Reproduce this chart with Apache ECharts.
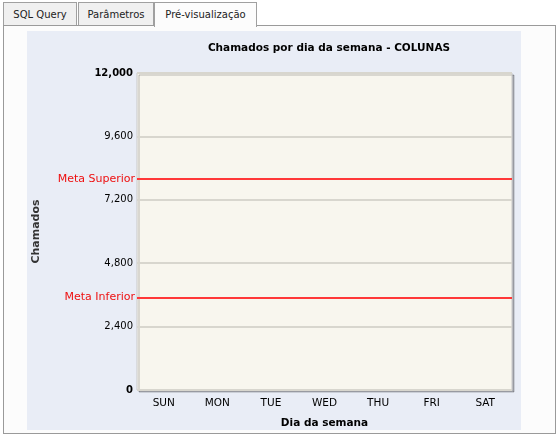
<!DOCTYPE html>
<html>
<head>
<meta charset="utf-8">
<script src="https://cdn.jsdelivr.net/npm/echarts@6/dist/echarts.min.js"></script>
<style>
  html,body{margin:0;padding:0;background:#ffffff;width:558px;height:437px;overflow:hidden;font-family:"DejaVu Sans",Verdana,sans-serif;}
  .tab{position:absolute;top:2px;height:23px;border:1px solid #a0a0a0;border-bottom:none;background:#f0f0f0;font-size:10px;color:#222;line-height:23px;text-align:center;box-sizing:border-box;}
  .tab.active{background:#fcfcfc;height:25px;z-index:2;}
  #panel{position:absolute;left:3px;top:25px;width:553px;height:409px;border:1px solid #9a9a9a;box-sizing:border-box;background:#fcfcfc;}
  #chart{position:absolute;left:27px;top:31px;width:494px;height:399px;}
</style>
</head>
<body>
<div class="tab" style="left:3px;width:74px;">SQL Query</div>
<div class="tab" style="left:78px;width:76px;">Parâmetros</div>
<div class="tab active" style="left:154px;width:103px;">Pré-visualização</div>
<div id="panel"></div>
<div id="chart"></div>
<script>
const titleText = 'Chamados por dia da semana - COLUNAS';
const categories = ['SUN','MON','TUE','WED','THU','FRI','SAT'];
const chamados = [0,0,0,0,0,0,0];
const yMin = 0, yMax = 12000, yInterval = 2400;
const metaSuperior = 8000;
const metaInferior = 3500;
const metaNames = ['Meta Superior','Meta Inferior'];
const xAxisName = 'Dia da semana';
const yAxisName = 'Chamados';

const chart = echarts.init(document.getElementById('chart'), null, {renderer:'canvas'});
const fmt = v => v.toLocaleString('en-US');
chart.setOption({
  animation:false,
  backgroundColor:'#e9edf6',
  title:{text:titleText,left:297,top:7,textAlign:'center',
    textStyle:{fontFamily:'DejaVu Sans',fontSize:10.5,fontWeight:'bold',color:'#000'}},
  grid:{left:110,right:9,top:42,height:317,outerBoundsMode:'none',containLabel:false,show:true,backgroundColor:'#f8f6ee',
    borderColor:'#c8c8c8',borderWidth:1,shadowColor:'rgba(0,0,0,0.25)',shadowOffsetX:2,shadowOffsetY:2,shadowBlur:0},
  xAxis:{type:'category',data:categories,name:xAxisName,nameLocation:'middle',nameGap:28,
    nameTextStyle:{fontFamily:'DejaVu Sans',fontSize:10.5,fontWeight:'bold',color:'#000'},
    axisLine:{show:false},axisTick:{show:false},
    axisLabel:{fontFamily:'DejaVu Sans',fontSize:10.5,color:'#000',margin:8}},
  yAxis:{type:'value',min:yMin,max:yMax,interval:yInterval,name:yAxisName,nameLocation:'middle',nameGap:95,
    nameTextStyle:{fontFamily:'DejaVu Sans',fontSize:11,fontWeight:'bold',color:'#333'},
    axisLine:{show:false},axisTick:{show:false},
    splitLine:{lineStyle:{color:'#d8d6ce',width:2}},
    axisLabel:{margin:4,color:'#000',fontFamily:'DejaVu Sans',fontSize:10,
      formatter:v=> (v===yMin||v===yMax) ? '{b|'+fmt(v)+'}' : fmt(v),
      rich:{b:{fontWeight:'bold',fontFamily:'DejaVu Sans',fontSize:10,color:'#000'}}}},
  series:[{type:'bar',data:chamados,itemStyle:{color:'#5b7fbf'},
    markLine:{symbol:'none',silent:true,
      lineStyle:{color:'#ff3838',width:2,type:'solid'},
      label:{position:'start',formatter:'{b}',color:'#ee1010',distance:2,
        fontFamily:'DejaVu Sans',fontSize:11},
      data:[{name:metaNames[0],yAxis:metaSuperior},{name:metaNames[1],yAxis:metaInferior}]}}]
});
</script>
</body>
</html>
